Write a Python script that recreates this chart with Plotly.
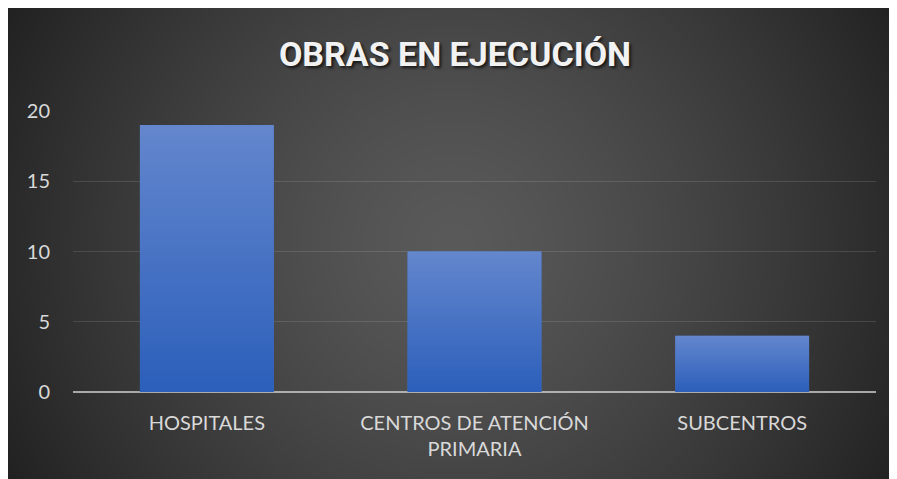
import base64, struct, zlib
import numpy as np
import plotly.graph_objects as go

# ---- data ----
categories = ["HOSPITALES", "CENTROS DE ATENCIÓN<br>PRIMARIA", "SUBCENTROS"]
values = [19, 10, 4]
y_ticks = [0, 5, 10, 15, 20]
title_text = "OBRAS EN EJECUCIÓN"

# page has an 8px body margin, so the figure is 889 wide
W, H = 889, 471
L, R, T, B = 65, 21, 103, 87
pw, ph = W - L - R, H - T - B


def make_png(arr):
    h, w, _ = arr.shape
    raw = b"".join(b"\x00" + arr[i].astype(np.uint8).tobytes() for i in range(h))

    def chunk(t, d):
        return struct.pack(">I", len(d)) + t + d + struct.pack(">I", zlib.crc32(t + d) & 0xffffffff)

    data = (b"\x89PNG\r\n\x1a\n"
            + chunk(b"IHDR", struct.pack(">IIBBBBB", w, h, 8, 2, 0, 0, 0))
            + chunk(b"IDAT", zlib.compress(raw, 9))
            + chunk(b"IEND", b""))
    return "data:image/png;base64," + base64.b64encode(data).decode()


# radial background gradient (dark corners, lighter centre)
bx0, by0, bx1, by1 = 0, -1, W, H
bw, bh = (bx1 - bx0) // 2, (by1 - by0) // 2
yy, xx = np.mgrid[0:bh, 0:bw]
cx, cy = bw / 2, bh / 2
r = np.sqrt((xx - cx) ** 2 + (yy - cy) ** 2) / np.sqrt(cx ** 2 + cy ** 2)
g = 90 - (90 - 34) * np.clip(r, 0, 1) ** 1.3
bg = np.stack([g, g, g], axis=-1)
bg_src = make_png(bg)

# vertical gradient for bars
n = 64
t = np.linspace(0, 1, n)[:, None]
top = np.array([100, 135, 206])
bot = np.array([45, 96, 187])
bar_grad = (top + (bot - top) * t)[:, None, :].repeat(2, axis=1)
bar_src = make_png(bar_grad)

x_idx = list(range(len(categories)))
bar_w = 0.5

fig = go.Figure()
fig.add_trace(go.Bar(x=x_idx, y=values, width=bar_w,
                     marker=dict(color="#4872c4", line=dict(width=0)),
                     hoverinfo="skip"))

images = [dict(source=bg_src, xref="paper", yref="paper",
               x=(bx0 - L) / pw, y=(H - B - by0) / ph,
               sizex=(bx1 - bx0) / pw, sizey=(by1 - by0) / ph,
               sizing="stretch", layer="below", xanchor="left", yanchor="top")]
for xi, v in zip(x_idx, values):
    images.append(dict(source=bar_src, xref="x", yref="y",
                       x=xi - bar_w / 2, y=v, sizex=bar_w, sizey=v,
                       sizing="stretch", layer="above", xanchor="left", yanchor="top"))

tick_font = dict(family="Lato, Open Sans, sans-serif", size=20, color="#d9d9d9")

fig.update_layout(
    width=W, height=H,
    margin=dict(l=L, r=R, t=T, b=B),
    paper_bgcolor="#3a3a3a",
    plot_bgcolor="rgba(0,0,0,0)",
    images=images,
    showlegend=False,
    title=dict(text=title_text, x=447 / W, xanchor="center", y=1 - 46 / H, yanchor="middle",
               font=dict(family="Roboto, sans-serif",
                         size=34, color="#f2f2f2", weight="bold",
                         shadow="2px 2px 3px rgba(0,0,0,0.7)")),
    xaxis=dict(tickvals=x_idx, ticktext=categories, range=[-0.5, len(categories) - 0.5],
               showgrid=False, zeroline=False, showline=False,
               ticks="outside", ticklen=13, tickcolor="rgba(0,0,0,0)",
               tickfont=tick_font),
    yaxis=dict(range=[0, 20], tickvals=y_ticks, showgrid=True,
               gridcolor="rgba(255,255,255,0.12)", gridwidth=1,
               zeroline=True, zerolinecolor="rgba(210,210,210,0.75)", zerolinewidth=2,
               showline=False, ticks="outside", ticklen=18, tickcolor="rgba(0,0,0,0)",
               tickfont=tick_font),
    bargap=0.5,
)

fig.write_html("out.html")
